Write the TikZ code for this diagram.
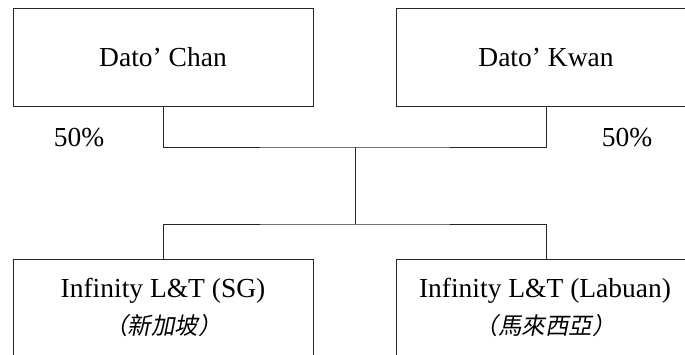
\documentclass[tikz,border=0pt]{standalone}
\usepackage{fontspec}
\setmainfont{Liberation Serif}
\newfontfamily\cjk[FakeSlant=0.2]{Noto Sans CJK TC}
\begin{document}
\begin{tikzpicture}[x=1pt,y=-1pt,
  line/.style={draw=black!85, line width=1pt},
  box/.style={line, rectangle, minimum width=300pt, inner sep=0pt},
  lbl/.style={font=\fontsize{27.5}{37}\selectfont, align=center, inner sep=0pt}]
\useasboundingbox (0,0) rectangle (685,354);
\clip (0,0) rectangle (685,354);
% top boxes
\node[box, minimum height=98pt] (chan) at (163,57) {};
\node[lbl, anchor=base] (chant) at (163,66) {Dato’ Chan};
\node[box, minimum height=98pt] (kwan) at (546,57) {};
\node[lbl, anchor=base] (kwant) at (546,66) {Dato’ Kwan};
% percentages
\node[lbl, anchor=base] (p1) at (79,146) {50\%};
\node[lbl, anchor=base] (p2) at (627,146) {50\%};
% bottom boxes
\node[box, minimum height=140pt, anchor=north] (sg) at (163,259) {};
\node[lbl, anchor=base] (sgt) at (163,334) {Infinity L\&T (SG)\\{\cjk\fontsize{23.5}{37}\selectfont （新加坡）}};
\node[box, minimum height=140pt, anchor=north] (lab) at (546,259) {};
\node[lbl, anchor=base] (labt) at (545,334) {Infinity L\&T (Labuan)\\{\cjk\fontsize{23.5}{37}\selectfont （馬來西亞）}};
% connectors
\coordinate (topj) at (355,147);
\coordinate (botj) at (355,224);
\draw[line] (chan.south) |- (topj) -| (kwan.south);
\draw[line] (topj) -- (botj);
\draw[line] (sg.north) |- (botj) -| (lab.north);
\end{tikzpicture}
\end{document}
